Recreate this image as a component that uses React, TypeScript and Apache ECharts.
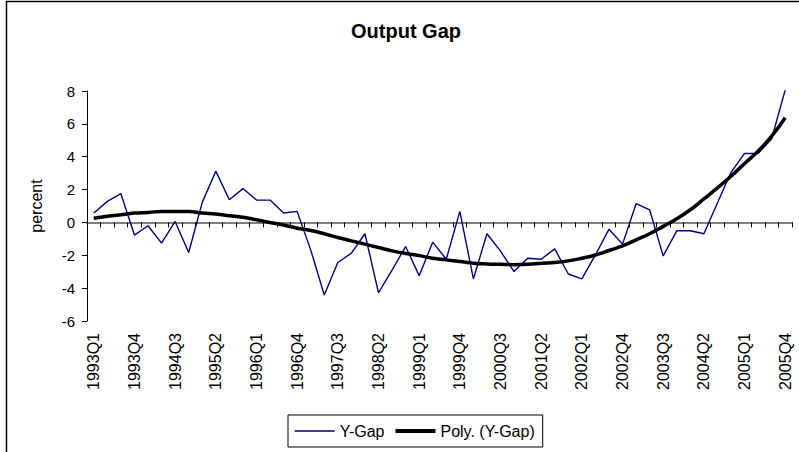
import React, { useEffect, useRef } from "react";
import * as echarts from "echarts";

const years = ["1993", "1994", "1995", "1996", "1997", "1998", "1999", "2000", "2001", "2002", "2003", "2004", "2005"];
const quarterNames = ["Q1", "Q2", "Q3", "Q4"];
const categories: string[] = [];
years.forEach((y) => quarterNames.forEach((q) => categories.push(y + q)));

const yGap = [
  0.57, 1.28, 1.75, -0.77, -0.2, -1.26, 0.06, -1.83, 1.22, 3.12, 1.38, 2.06, 1.36,
  1.36, 0.57, 0.67, -1.67, -4.42, -2.44, -1.87, -0.69, -4.28, -2.9, -1.47, -3.24, -1.2,
  -2.24, 0.67, -3.44, -0.69, -1.75, -2.99, -2.18, -2.24, -1.61, -3.14, -3.44, -1.98, -0.41,
  -1.32, 1.14, 0.77, -2.04, -0.51, -0.51, -0.69, 1.18, 3.05, 4.2, 4.2, 5.09, 8.07,
];

const polyTrend = [
  0.26, 0.37, 0.47, 0.57, 0.61, 0.67, 0.67, 0.67, 0.57, 0.51, 0.41, 0.31, 0.16,
  0, -0.16, -0.35, -0.49, -0.69, -0.92, -1.12, -1.32, -1.53, -1.73, -1.89, -2.02, -2.18,
  -2.28, -2.38, -2.48, -2.53, -2.55, -2.57, -2.55, -2.48, -2.44, -2.34, -2.18, -1.98, -1.71,
  -1.43, -1.06, -0.69, -0.24, 0.22, 0.77, 1.43, 2.1, 2.81, 3.58, 4.34, 5.25, 6.37,
];

const FONT = "'Liberation Sans', Arial, sans-serif";

export default function App() {
  const ref = useRef<HTMLDivElement>(null);
  useEffect(() => {
    if (!ref.current) return;
    const chart = echarts.init(ref.current, undefined, { renderer: "svg" });
    chart.setOption({
      animation: false,
      backgroundColor: "#ffffff",
      title: {
        text: "Output Gap",
        left: 401,
        top: 16,
        textAlign: "center",
        textStyle: { fontFamily: FONT, fontSize: 20, fontWeight: "bold", color: "#000" },
      },
      grid: { left: 87, right: 7, top: 91, bottom: 131, containLabel: false },
      legend: {
        left: 288,
        top: 415,
        orient: "horizontal",
        padding: [8, 8, 8, 6],
        itemGap: 9,
        itemWidth: 40,
        itemHeight: 14,
        borderColor: "#000",
        borderWidth: 1,
        borderRadius: 0,
        textStyle: { fontFamily: FONT, fontSize: 16, color: "#000" },
        data: [
          { name: "Y-Gap", itemStyle: { opacity: 0 }, lineStyle: { width: 1.4 } },
          { name: "Poly. (Y-Gap)", itemStyle: { opacity: 0 }, lineStyle: { width: 4 } },
        ],
      },
      xAxis: [
        {
          type: "category",
          data: categories,
          boundaryGap: true,
          position: "bottom",
          axisLine: { show: true, onZero: true, lineStyle: { color: "#808080", width: 2 } },
          axisTick: { show: true, interval: 0, length: 5, lineStyle: { color: "#000" } },
          axisLabel: { show: false },
          splitLine: { show: false },
        },
        {
          type: "category",
          data: categories,
          boundaryGap: true,
          position: "bottom",
          axisLine: { show: false, onZero: false },
          axisTick: { show: false },
          axisLabel: { rotate: 90, interval: 2, fontSize: 16, color: "#000", margin: 12, fontFamily: FONT },
          splitLine: { show: false },
        },
      ],
      yAxis: {
        type: "value",
        min: -6,
        max: 8,
        interval: 2,
        axisLine: { show: true, lineStyle: { color: "#000", width: 1 } },
        axisTick: { show: true, length: 5, lineStyle: { color: "#000" } },
        splitLine: { show: false },
        axisLabel: { fontSize: 15, color: "#000", margin: 12, fontFamily: FONT },
        name: "percent",
        nameLocation: "middle",
        nameRotate: 90,
        nameGap: 43,
        nameTextStyle: { fontSize: 16, color: "#000", fontFamily: FONT },
      },
      series: [
        {
          name: "Y-Gap",
          type: "line",
          xAxisIndex: 0,
          data: yGap,
          symbol: "none",
          lineStyle: { color: "#000080", width: 1.4 },
          itemStyle: { color: "#000080" },
        },
        {
          name: "Poly. (Y-Gap)",
          type: "line",
          xAxisIndex: 0,
          data: polyTrend,
          symbol: "none",
          smooth: true,
          lineStyle: { color: "#000", width: 3.5 },
          itemStyle: { color: "#000" },
        },
      ],
      graphic: [
        {
          type: "rect",
          silent: true,
          shape: { x: 6.5, y: 1.5, width: 1000, height: 1000 },
          style: { fill: "none", stroke: "#000", lineWidth: 1.5 },
        },
      ],
    });
    return () => chart.dispose();
  }, []);
  return <div ref={ref} style={{ position: "fixed", left: 0, top: 0, width: 799, height: 452 }} />;
}
